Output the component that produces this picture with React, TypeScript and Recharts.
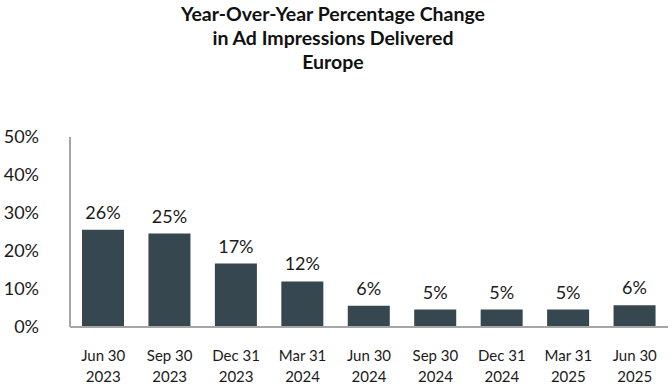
import React from "react";
import { BarChart, Bar, XAxis, YAxis, LabelList } from "recharts";

const quarters = ["Jun 30", "Sep 30", "Dec 31", "Mar 31", "Jun 30", "Sep 30", "Dec 31", "Mar 31", "Jun 30"];
const years = ["2023", "2023", "2023", "2024", "2024", "2024", "2024", "2025", "2025"];
const changes = [0.256, 0.246, 0.167, 0.12, 0.056, 0.046, 0.046, 0.046, 0.057];
const yTicks = [0, 0.1, 0.2, 0.3, 0.4, 0.5];

const data = quarters.map((q, i) => ({
  label: `${q}|${years[i]}`,
  value: changes[i],
}));

const FONT = "Lato, 'Open Sans', sans-serif";

const pct = (v: number) => `${Math.round(v * 100)}%`;

function YTick({ x, y, payload }: any) {
  return (
    <text x={x - 23} y={y} dy={6} textAnchor="end" fontSize={18} fill="#1a1a1a" fontFamily={FONT}>
      {pct(payload.value)}
    </text>
  );
}

function XTick({ x, y, payload }: any) {
  const [line1, line2] = String(payload.value).split("|");
  return (
    <text x={x} y={y} textAnchor="middle" fontSize={15} fill="#1a1a1a" fontFamily={FONT}>
      <tspan x={x} dy={26}>{line1}</tspan>
      <tspan x={x} dy={21}>{line2}</tspan>
    </text>
  );
}

export default function App() {
  return (
    <div style={{ position: "absolute", left: 0, top: 0, width: 672, height: 384, background: "#fff" }}>
      <div
        style={{
          position: "absolute",
          top: 2,
          left: 0,
          width: 666,
          textAlign: "center",
          fontFamily: FONT,
          fontWeight: 700,
          fontSize: 19.5,
          lineHeight: "24px",
          color: "#111",
        }}
      >
        Year-Over-Year Percentage Change
        <br />
        in Ad Impressions Delivered
        <br />
        Europe
      </div>
      <BarChart
        width={672}
        height={384}
        data={data}
        margin={{ top: 137, right: 4, bottom: 0, left: 0 }}
        barSize={42}
      >
        <XAxis
          dataKey="label"
          tick={<XTick />}
          tickLine={false}
          axisLine={{ stroke: "#a6a6a6", strokeWidth: 2 }}
          interval={0}
          height={57}
        />
        <YAxis
          domain={[0, 0.5]}
          ticks={yTicks}
          tick={<YTick />}
          tickLine={false}
          axisLine={{ stroke: "#a6a6a6", strokeWidth: 2 }}
          width={70}
          interval={0}
        />
        <Bar dataKey="value" fill="#36474f" isAnimationActive={false}>
          <LabelList
            dataKey="value"
            position="top"
            offset={11}
            formatter={(v: any) => pct(Number(v))}
            style={{ fontSize: 18, fill: "#1a1a1a", fontFamily: FONT }}
          />
        </Bar>
      </BarChart>
    </div>
  );
}
